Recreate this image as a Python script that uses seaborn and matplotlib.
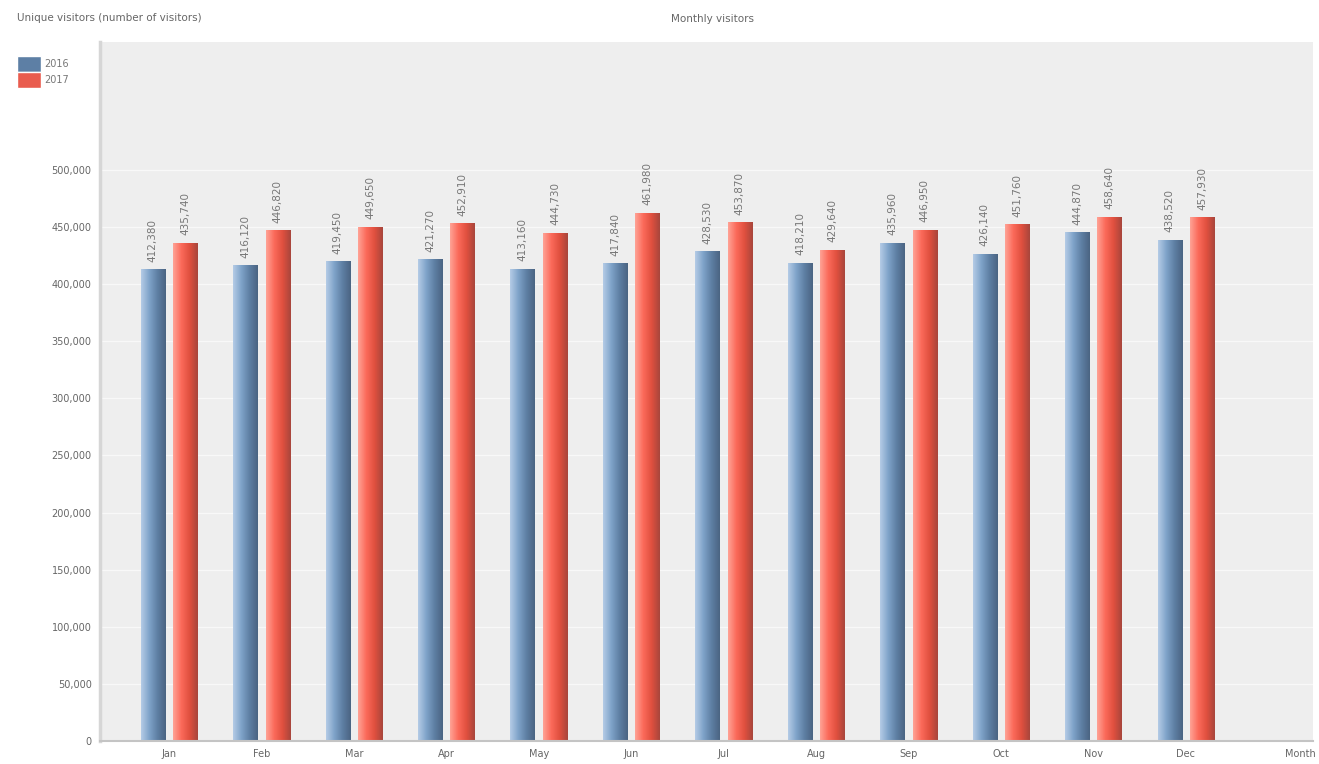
import numpy as np
import pandas as pd
import matplotlib
matplotlib.use("Agg")
import matplotlib.pyplot as plt
from matplotlib.colors import LinearSegmentedColormap
from matplotlib.patches import Patch
import seaborn as sns

# datos (aprox.)
meses = ["Jan", "Feb", "Mar", "Apr", "May", "Jun", "Jul", "Aug", "Sep", "Oct", "Nov", "Dec"]
anios = ["2016", "2017"]
visitas_2016 = [412380, 416120, 419450, 421270, 413160, 417840, 428530, 418210, 435960, 426140, 444870, 438520]
visitas_2017 = [435740, 446820, 449650, 452910, 444730, 461980, 453870, 429640, 446950, 451760, 458640, 457930]

df = pd.DataFrame({
    "mes": meses * 2,
    "anio": [anios[0]] * 12 + [anios[1]] * 12,
    "visitas": visitas_2016 + visitas_2017,
})

azul = "#5d7fa5"
rojo = "#e95c4e"

sns.set_style("white")
fig = plt.figure(figsize=(13.19, 7.64), dpi=100)
ax = fig.add_axes([0.0758, 0.0301, 0.92, 0.915])
ax.set_facecolor("#eeeeee")

sns.barplot(data=df, x="mes", y="visitas", hue="anio", palette=[azul, rojo],
            width=0.7, gap=0.25, ax=ax, legend=False)

# degradado horizontal en cada barra
cm_azul = LinearSegmentedColormap.from_list("az", ["#b4cbe6", "#7fa3c9", "#5e7fa3", "#4b6482"])
cm_rojo = LinearSegmentedColormap.from_list("ro", ["#ffa295", "#fb6a5a", "#e0503f", "#a8463c"])
grad = np.linspace(0, 1, 64).reshape(1, -1)
n = len(meses)
for i, p in enumerate(ax.patches[:2 * n]):
    x0, w, h = p.get_x(), p.get_width(), p.get_height()
    cmap = cm_azul if i < n else cm_rojo
    ax.imshow(grad, extent=[x0, x0 + w, 0, h], cmap=cmap, aspect="auto", zorder=2)
    p.set_visible(False)
    ax.text(x0 + w / 2, h + 7000, f"{int(h):,}", rotation=90, ha="center", va="bottom",
            fontsize=7.5, color="#777777", zorder=3)

ax.set_xlim(-0.747, 12.38)
ax.set_ylim(0, 612000)
ax.set_yticks(range(0, 500001, 50000))
ax.set_yticklabels([f"{v:,}" for v in range(0, 500001, 50000)])
ax.yaxis.grid(True, color="#f8f8f8", lw=1)
ax.set_axisbelow(True)
ax.tick_params(axis="both", length=0, labelsize=7, colors="#666666", pad=6)
ax.set_xlabel("")
ax.set_ylabel("")
for s in ["top", "right"]:
    ax.spines[s].set_visible(False)
ax.spines["left"].set_color("#d6d6d6")
ax.spines["left"].set_linewidth(2.5)
ax.spines["bottom"].set_color("#c4c4c4")
ax.spines["bottom"].set_linewidth(1.5)

# nombre del eje x a la derecha
ax.text(12.24, -0.012, "Month", transform=ax.get_xaxis_transform(), ha="center", va="top",
        fontsize=7, color="#666666")

#Titulos y leyenda
fig.text(0.013, 0.977, "Unique visitors (number of visitors)", fontsize=7.5, color="#666666", va="center")
fig.text(0.54, 0.975, "Monthly visitors", fontsize=7.5, color="#666666", ha="center", va="center")
handles = [Patch(facecolor=azul, label=anios[0]), Patch(facecolor=rojo, label=anios[1])]
fig.legend(handles=handles, loc="upper left", bbox_to_anchor=(0.008, 0.936), frameon=False,
           fontsize=7, handlelength=2.4, handleheight=2.2, handletextpad=0.4,
           labelspacing=0.0, borderpad=0.2, labelcolor="#777777")

fig.savefig("out.png", dpi=100)
